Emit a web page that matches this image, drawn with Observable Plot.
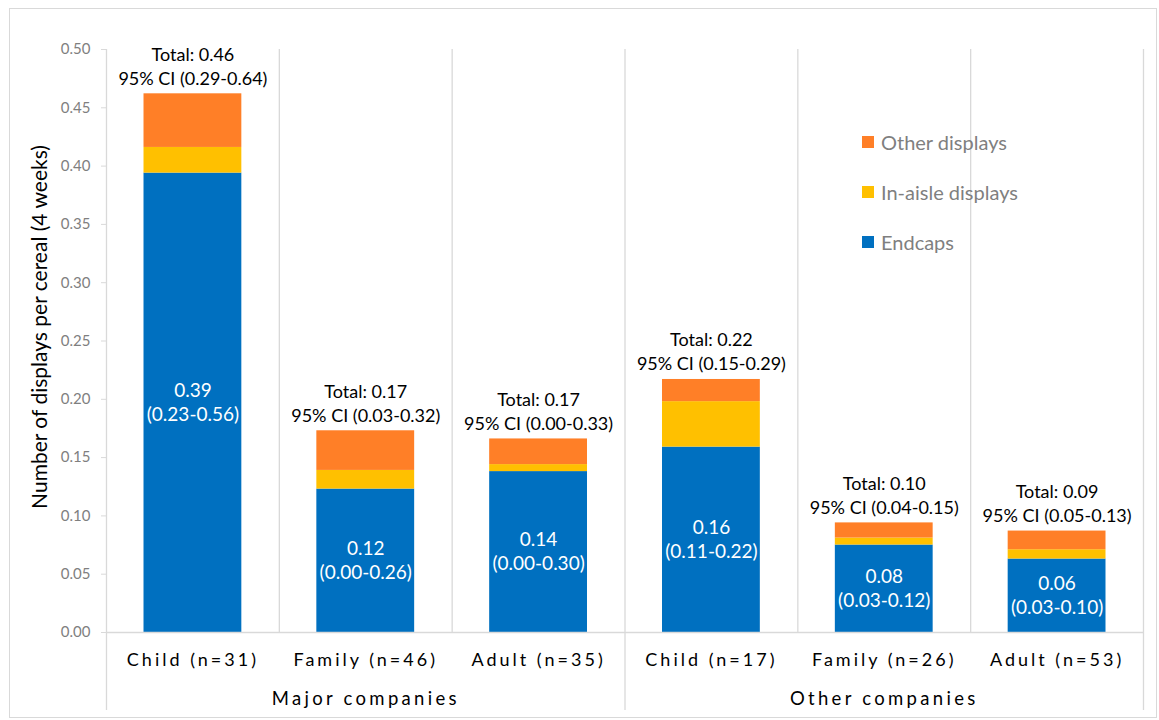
<!DOCTYPE html>
<html>
<head>
<meta charset="utf-8">
<script src="https://cdn.jsdelivr.net/npm/d3@7"></script>
<script src="https://cdn.jsdelivr.net/npm/@observablehq/plot@0.6"></script>
<style>
  html, body { margin: 0; padding: 0; background: #fff; }
  body { width: 1159px; height: 720px; position: relative; overflow: hidden; font-family: Lato, "Open Sans", sans-serif; }
  #frame { position: absolute; left: 9px; top: 8px; width: 1148px; height: 710px; border: 1px solid #d9d9d9; box-sizing: border-box; }
  #chart { position: absolute; left: 0; top: 0; }
  #chart g[aria-label="x-axis tick label"] text { letter-spacing: 3px; }
  .grp text { letter-spacing: 3.3px; }
  #legend { position: absolute; left: 862px; top: 130px; font-family: Lato, sans-serif; font-size: 20px; color: #7f7f7f; }
  #legend .row { display: flex; align-items: center; height: 24px; margin-bottom: 26px; }
  #legend .sw { width: 12px; height: 12px; margin-right: 7px; }
</style>
</head>
<body>
<div id="frame"></div>
<div id="chart"></div>
<div id="legend"></div>
<script>
// ---- data ----
const groups = ["Major companies", "Other companies"];
const categories = ["Child (n=31)", "Family (n=46)", "Adult (n=35)", "Child (n=17)", "Family (n=26)", "Adult (n=53)"];
const seriesNames = ["Endcaps", "In-aisle displays", "Other displays"];
const seriesColors = ["#0070C0", "#FFC000", "#FF7F27"];
const endcaps = [0.394, 0.123, 0.138, 0.159, 0.075, 0.063];
const inAisle = [0.022, 0.016, 0.006, 0.039, 0.006, 0.008];
const otherDisplays = [0.046, 0.034, 0.022, 0.019, 0.013, 0.016];
const totalLabels = ["0.46", "0.17", "0.17", "0.22", "0.10", "0.09"];
const totalCI = ["0.29-0.64", "0.03-0.32", "0.00-0.33", "0.15-0.29", "0.04-0.15", "0.05-0.13"];
const endcapLabels = ["0.39", "0.12", "0.14", "0.16", "0.08", "0.06"];
const endcapCI = ["0.23-0.56", "0.00-0.26", "0.00-0.30", "0.11-0.22", "0.03-0.12", "0.03-0.10"];
const yTicks = [0, 0.05, 0.10, 0.15, 0.20, 0.25, 0.30, 0.35, 0.40, 0.45, 0.50];
const yTitle = "Number of displays per cereal (4 weeks)";

// ---- tables ----
const seriesValues = [endcaps, inAisle, otherDisplays];
const long = [];
categories.forEach((c, i) => {
  seriesNames.forEach((s, k) => long.push({cat: c, series: s, value: seriesValues[k][i]}));
});
const summary = categories.map((c, i) => ({
  cat: c,
  total: endcaps[i] + inAisle[i] + otherDisplays[i],
  endcap: endcaps[i],
  totalLabel: totalLabels[i], totalCI: totalCI[i],
  endLabel: endcapLabels[i], endCI: endcapCI[i]
}));

const W = 1159, H = 720, mL = 106, mR = 16, mT = 49, mB = 88;
const step = (W - mL - mR) / categories.length;
const gridColor = "#d9d9d9";
const groupEnds = [categories[2], categories[5]];
const innerSeps = [categories[0], categories[1], categories[3], categories[4]];

const plot = Plot.plot({
  width: W, height: H,
  marginLeft: mL, marginRight: mR, marginTop: mT, marginBottom: mB,
  style: {fontFamily: "Lato, 'Open Sans', sans-serif", fontSize: "15px", background: "transparent", overflow: "visible"},
  x: {domain: categories, paddingInner: 0.434, paddingOuter: 0.217, round: false, axis: null, label: null},
  y: {domain: [0, 0.5], axis: null, label: null},
  color: {domain: seriesNames, range: seriesColors},
  marks: [
    Plot.ruleX(innerSeps, {x: d => d, dx: step / 2, stroke: gridColor, strokeWidth: 1.3}),
    Plot.ruleX(groupEnds, {x: d => d, dx: step / 2, stroke: gridColor, strokeWidth: 1.3, insetBottom: -78}),
    Plot.ruleX([categories[0]], {x: d => d, dx: -step / 2, stroke: gridColor, strokeWidth: 1.3, insetBottom: -78}),
    Plot.barY(long, {x: "cat", y: "value", fill: "series"}),
    Plot.ruleY([0], {stroke: gridColor, strokeWidth: 1.3}),
    Plot.axisY({ticks: yTicks, tickFormat: d3.format(".2f"), tickSize: 5, tickPadding: 11, stroke: gridColor, fill: "#7f7f7f", fontSize: 15}),
    Plot.axisX({tickSize: 0, tickPadding: 21, fontSize: 18, fill: "#000"}),
    Plot.text(summary, {x: "cat", y: "total", text: d => "Total: " + d.totalLabel, dy: -39, fontSize: 18, fill: "#000"}),
    Plot.text(summary, {x: "cat", y: "total", text: d => "95% CI (" + d.totalCI + ")", dy: -15, fontSize: 18, fill: "#000"}),
    Plot.text(summary, {x: "cat", y: d => d.endcap / 2, text: "endLabel", dy: -12, fontSize: 19, fill: "#fff"}),
    Plot.text(summary, {x: "cat", y: d => d.endcap / 2, text: d => "(" + d.endCI + ")", dy: 12, fontSize: 19, fill: "#fff"}),
    Plot.text([groups[0]], {x: () => categories[1], frameAnchor: "bottom", dy: 72, fontSize: 18.5, fill: "#000", className: "grp"}),
    Plot.text([groups[1]], {x: () => categories[4], frameAnchor: "bottom", dy: 72, fontSize: 18.5, fill: "#000", className: "grp"}),
    Plot.text([yTitle], {frameAnchor: "left", textAnchor: "middle", dx: -66, dy: -14, rotate: -90, fontSize: 21, fill: "#000"})
  ]
});
document.getElementById("chart").appendChild(plot);

// legend (top-down order as in the reference)
const legend = document.getElementById("legend");
[2, 1, 0].forEach(k => {
  const row = document.createElement("div");
  row.className = "row";
  const sw = document.createElement("span");
  sw.className = "sw";
  sw.style.background = seriesColors[k];
  const lab = document.createElement("span");
  lab.textContent = seriesNames[k];
  row.appendChild(sw); row.appendChild(lab);
  legend.appendChild(row);
});
</script>
</body>
</html>
